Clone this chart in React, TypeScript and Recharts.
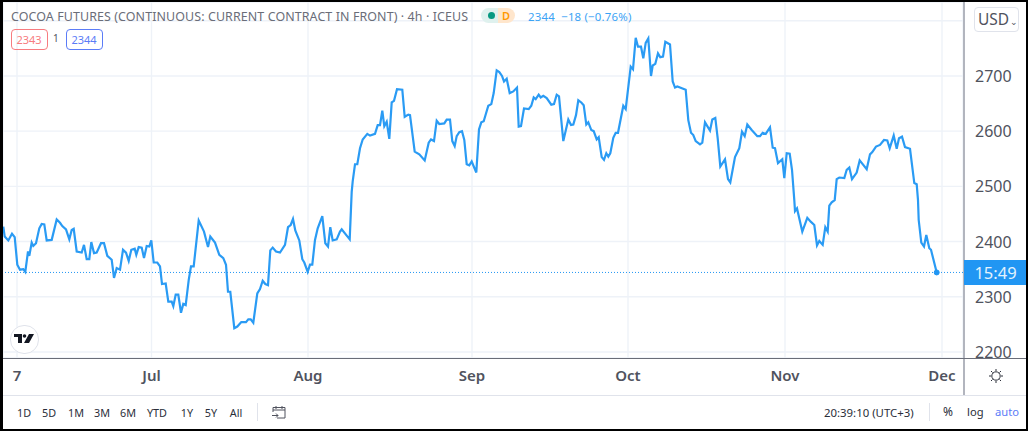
import { CSSProperties } from "react"
import {
  LineChart,
  Line,
  XAxis,
  YAxis,
  CartesianGrid,
  ReferenceLine,
  ReferenceDot,
} from "recharts"

const FONT = "'Noto Sans', sans-serif"
const BLUE = "#2196f3"
const TEXT = "#50535e"

// position along the time axis (gaps between sessions removed)
const barPos = [
  0.3, 1.7, 5.3, 9, 11.7, 14.3, 17, 20.3, 22.3, 25, 26.3, 28.7, 30.3, 33, 36.3, 38.7, 41.3, 43.7, 48.7, 53.7,
  57, 59.3, 63, 66.3, 68.7, 70.7, 73.7, 78.7, 81, 83.7, 86.3, 88.3, 91, 93.7, 98, 101, 104.3, 108.7, 111, 113.7,
  117, 120, 123, 125.7, 128.3, 131.7, 133.3, 135.7, 138.7, 141, 143.7, 146.3, 148.3, 150.7, 154.3, 157, 159, 162.7, 165.3, 168.7,
  170.3, 172.7, 175.3, 178, 180.3, 182.7, 185.7, 188, 190.7, 195.7, 201, 205, 207.3, 212, 216.3, 220.3, 223, 225, 227.3, 231.3,
  234.3, 238.3, 243, 245.3, 247.7, 250.3, 254.3, 257, 259.7, 262.3, 265, 267.3, 269.7, 273, 277, 282, 285, 287.7, 290, 292.3,
  296.3, 299.3, 301.3, 304.7, 307, 309.3, 312, 314.7, 319.3, 322.3, 325, 327.3, 329.7, 333.7, 337, 338.7, 346.7, 348.7, 349.7, 352,
  354.3, 357, 359.7, 364.3, 367, 372, 374.7, 377, 379.3, 381.3, 383.7, 386.3, 388.7, 391, 394, 399.3, 401.7, 405.3, 407, 411.7,
  416.3, 421.7, 425.7, 428, 431, 433.7, 436.3, 441.3, 443.7, 447, 449.3, 451.7, 453.7, 456.3, 459, 461.3, 463.7, 466.3, 468.7, 473.3,
  476, 478.3, 480.7, 485.3, 488.3, 490.7, 493.7, 496.3, 499, 501, 503.7, 506.7, 510.3, 514, 515.7, 518, 521, 525.7, 528.3, 530.7,
  532.7, 535.7, 537.7, 540.3, 543.7, 548.3, 551, 553.7, 556, 560.3, 565.3, 568, 570.3, 573, 575.3, 578.3, 580.7, 583.3, 585.3, 588.3,
  590.7, 593.7, 595.7, 598.7, 601, 603.3, 605.3, 607.3, 610.3, 612.7, 615, 620.3, 622.7, 627.7, 630, 632.7, 635, 638, 640.3, 642.7,
  645.3, 648, 649.7, 652.3, 655, 657.3, 660, 662.3, 667, 669.7, 672, 674.3, 677, 682.7, 685.3, 688, 690.3, 692.7, 697, 699.3,
  702, 707, 709.3, 712.3, 714.7, 717.3, 722, 725, 727.3, 732, 736.3, 739, 741.7, 744.3, 748.7, 754.3, 757, 759.7, 762.7, 767,
  769.7, 772, 775, 779.3, 781.3, 783.7, 786.7, 789, 791.3, 792, 794, 799.3, 804.3, 807.7, 811.3, 814, 816.3, 819.7, 822.3, 824.7,
  826.3, 828.7, 831.7, 833.7, 836.3, 841.3, 843.7, 846.3, 849, 853.7, 856.7, 863.7, 867, 869.3, 873, 877, 881, 884.3, 886.7, 890.7,
  893.7, 896, 899, 902, 907, 911.3, 913.7, 915, 915.7, 918.3, 921, 923.3, 926.3, 928, 933.7,
]

const closes = [
  2427, 2409, 2402, 2414, 2408, 2358, 2349, 2350, 2345, 2382, 2374, 2398, 2392, 2397, 2424, 2432, 2431, 2402, 2403, 2440,
  2434, 2428, 2422, 2404, 2421, 2423, 2382, 2380, 2394, 2368, 2368, 2399, 2379, 2380, 2397, 2397, 2374, 2367, 2334, 2352,
  2349, 2385, 2380, 2365, 2385, 2387, 2376, 2390, 2389, 2370, 2392, 2391, 2402, 2362, 2362, 2355, 2323, 2324, 2291, 2291,
  2283, 2304, 2304, 2271, 2287, 2285, 2330, 2355, 2355, 2438, 2418, 2390, 2409, 2398, 2376, 2370, 2358, 2309, 2309, 2243,
  2246, 2254, 2254, 2259, 2259, 2253, 2306, 2314, 2329, 2323, 2321, 2384, 2389, 2382, 2380, 2394, 2426, 2430, 2441, 2420,
  2402, 2368, 2362, 2345, 2358, 2358, 2403, 2424, 2446, 2397, 2391, 2426, 2402, 2404, 2418, 2422, 2404, 2490, 2509, 2540,
  2540, 2569, 2585, 2595, 2592, 2595, 2611, 2611, 2637, 2609, 2617, 2586, 2652, 2655, 2676, 2675, 2626, 2630, 2629, 2563,
  2558, 2547, 2579, 2585, 2582, 2619, 2613, 2614, 2621, 2621, 2582, 2573, 2591, 2598, 2600, 2584, 2540, 2538, 2545, 2525,
  2603, 2616, 2618, 2646, 2649, 2669, 2710, 2707, 2700, 2690, 2695, 2669, 2672, 2679, 2608, 2609, 2641, 2640, 2646, 2661,
  2658, 2666, 2661, 2664, 2660, 2648, 2649, 2666, 2663, 2582, 2621, 2611, 2612, 2629, 2656, 2652, 2647, 2612, 2616, 2602,
  2600, 2585, 2589, 2553, 2548, 2560, 2554, 2560, 2588, 2597, 2597, 2646, 2640, 2717, 2712, 2769, 2753, 2753, 2732, 2760,
  2768, 2700, 2719, 2722, 2741, 2734, 2735, 2762, 2757, 2690, 2679, 2681, 2679, 2675, 2620, 2597, 2593, 2582, 2576, 2579,
  2616, 2601, 2621, 2624, 2587, 2536, 2549, 2513, 2507, 2553, 2569, 2599, 2591, 2612, 2602, 2591, 2591, 2597, 2595, 2607,
  2570, 2569, 2542, 2549, 2515, 2560, 2559, 2530, 2475, 2455, 2460, 2418, 2443, 2436, 2430, 2393, 2401, 2394, 2426, 2418,
  2465, 2471, 2475, 2513, 2516, 2515, 2530, 2534, 2513, 2525, 2547, 2531, 2558, 2562, 2572, 2575, 2584, 2583, 2569, 2592,
  2568, 2587, 2590, 2571, 2568, 2506, 2504, 2475, 2439, 2398, 2391, 2412, 2388, 2385, 2344,
]

const monthTicks = [14, 148.5, 305, 469, 625, 782, 939]
const monthLabels = ["7", "Jul", "Aug", "Sep", "Oct", "Nov", "Dec"]
const priceTicks = [2200, 2300, 2400, 2500, 2600, 2700, 2800]
const rangeButtons = ["1D", "5D", "1M", "3M", "6M", "YTD", "1Y", "5Y", "All"]
const rangeCenters = [24, 49, 76, 102, 128, 157, 187, 211, 236]

const chartData = barPos.map((pos, i) => ({ pos, close: closes[i] }))
const lastPos = barPos[barPos.length - 1]
const lastClose = closes[closes.length - 1]

const abs = (left: number, top: number, extra: CSSProperties = {}): CSSProperties => ({
  position: "absolute",
  left,
  top,
  whiteSpace: "nowrap",
  ...extra,
})

function MonthTick({ x, payload }: any) {
  const label = monthLabels[monthTicks.indexOf(payload.value)]
  return (
    <text x={x} y={381} textAnchor="middle" fontSize={15} fontWeight={600} fontFamily={FONT} fill={TEXT}>
      {label}
    </text>
  )
}

function PriceTick({ y, payload }: any) {
  if (payload.value === 2800) return null
  return (
    <text x={975} y={y + 6} fontSize={16} fontFamily={FONT} fill={TEXT}>
      {payload.value}
    </text>
  )
}

export default function App() {
  return (
    <div style={abs(0, 0, { width: 1028, height: 431, background: "#fff", fontFamily: FONT, overflow: "hidden" })}>
      <LineChart width={1028} height={431} data={chartData} margin={{ top: 2, right: 0, bottom: 0, left: 3 }}>
        <CartesianGrid stroke="#eef2f8" strokeWidth={1.4} />
        <XAxis
          dataKey="pos"
          type="number"
          domain={[0, 960]}
          ticks={monthTicks}
          height={73}
          axisLine={false}
          tickLine={false}
          interval={0}
          tick={<MonthTick />}
        />
        <YAxis
          orientation="right"
          type="number"
          domain={[2189, 2834]}
          ticks={priceTicks}
          width={65}
          axisLine={false}
          tickLine={false}
          interval={0}
          tick={<PriceTick />}
        />
        <ReferenceLine y={lastClose} stroke={BLUE} strokeWidth={1} strokeDasharray="1 2" />
        <Line
          type="linear"
          dataKey="close"
          stroke="#2a9bf4"
          strokeWidth={2.2}
          dot={false}
          isAnimationActive={false}
        />
        <ReferenceDot x={lastPos} y={lastClose} r={2.5} fill={BLUE} stroke={BLUE} />
      </LineChart>

      {/* pane borders */}
      <div style={abs(963, 0, { width: 1.5, height: 395, background: "#b2b5be" })} />
      <div style={abs(0, 358, { width: 1028, height: 1.2, background: "#6a6d78" })} />
      <div style={abs(0, 395, { width: 1028, height: 1, background: "#e0e3eb" })} />

      {/* header */}
      <div style={abs(11, 7.5, { fontSize: 12.45, color: "#6a6d78", letterSpacing: 0.1 })}>
        COCOA FUTURES (CONTINUOUS: CURRENT CONTRACT IN FRONT) · 4h · ICEUS
      </div>
      <div style={abs(481, 8, { width: 17, height: 15, background: "#dff1ee", borderRadius: "8px 0 0 8px" })} />
      <div style={abs(498, 8, { width: 17, height: 15, background: "#ffe6cc", borderRadius: "0 8px 8px 0" })} />
      <div style={abs(488, 12, { width: 7, height: 7, background: "#089981", borderRadius: 4 })} />
      <div style={abs(502, 7.5, { fontSize: 11, fontWeight: 600, color: "#ff9800" })}>D</div>
      <div style={abs(528, 9, { fontSize: 11.4, color: "#3ba3f5", letterSpacing: 0.2 })}>2344 &nbsp;−18 (−0.76%)</div>

      <div style={abs(10.5, 29, { width: 35, height: 19, border: "1px solid #f77c80", borderRadius: 4, color: "#f77c80", fontSize: 11, textAlign: "center", lineHeight: "19px" })}>
        2343
      </div>
      <div style={abs(53, 31, { fontSize: 10, color: TEXT })}>1</div>
      <div style={abs(65.5, 29, { width: 35, height: 19, border: "1px solid #5b7cf7", borderRadius: 4, color: "#5b7cf7", fontSize: 11, textAlign: "center", lineHeight: "19px" })}>
        2344
      </div>

      {/* currency button */}
      <div style={abs(974, 7, { width: 40, height: 23, border: "1px solid #e0e3eb", borderRadius: 4, fontSize: 15.5, color: TEXT, lineHeight: "23px", paddingLeft: 3, boxSizing: "content-box" })}>
        USD<span style={{ fontSize: 9, marginLeft: 1 }}>⌄</span>
      </div>

      {/* last price label */}
      <div style={abs(964, 260, { width: 61, height: 25, background: BLUE, color: "#e3f2fd", fontSize: 16.5, textAlign: "center", lineHeight: "25px", paddingLeft: 1, boxSizing: "content-box" })}>
        15:49
      </div>

      {/* logo */}
      <div style={abs(10, 325, { width: 27, height: 27, borderRadius: 14, border: "1px solid #e0e3eb", background: "#fff" })} />
      <svg style={abs(13, 333)} width={22} height={12} viewBox="0 0 22 12">
        <path d="M1 1h8v9H5V4H1z M16 1h5l-5 9h-5z" fill="#131722" />
        <circle cx="11.5" cy="3" r="1.8" fill="#131722" />
      </svg>

      {/* settings icon */}
      <svg style={abs(988, 368)} width={16} height={16} viewBox="0 0 16 16" fill="none" stroke="#2a2e39" strokeWidth={1}>
        <circle cx="8" cy="8" r="4.2" />
        <path d="M8 1v2M8 13v2M1 8h2M13 8h2M3 3l1.5 1.5M11.5 11.5L13 13M13 3l-1.5 1.5M4.5 11.5L3 13" />
      </svg>

      {/* bottom toolbar */}
      {rangeButtons.map((label, i) => (
        <div key={label} style={abs(rangeCenters[i] - 20, 404.5, { width: 40, textAlign: "center", fontSize: 10.8, color: "#2a2e39" })}>
          {label}
        </div>
      ))}
      <div style={abs(257, 403, { width: 1, height: 18, background: "#e0e3eb" })} />
      <svg style={abs(271, 405)} width={16} height={14} viewBox="0 0 16 14" fill="none" stroke="#50535e" strokeWidth={1}>
        <path d="M2 7V2.5h12V13H6M2 5h12M5 1v3M11 1v3M1 10.5h6M5 8.5l2 2-2 2" />
      </svg>
      <div style={abs(824, 404.5, { fontSize: 11.4, color: "#2a2e39" })}>20:39:10 (UTC+3)</div>
      <div style={abs(929, 403, { width: 1, height: 18, background: "#e0e3eb" })} />
      <div style={abs(943, 403, { fontSize: 12, color: "#2a2e39" })}>%</div>
      <div style={abs(967, 404, { fontSize: 11.2, color: "#2a2e39" })}>log</div>
      <div style={abs(995, 404, { fontSize: 11.2, color: "#5b7cf7" })}>auto</div>

      {/* outer frame */}
      <div style={abs(0, 0, { width: 1028, height: 431, boxSizing: "border-box", borderStyle: "solid", borderColor: "#000", borderWidth: "2px 2px 2px 3px", pointerEvents: "none" })} />
    </div>
  )
}
